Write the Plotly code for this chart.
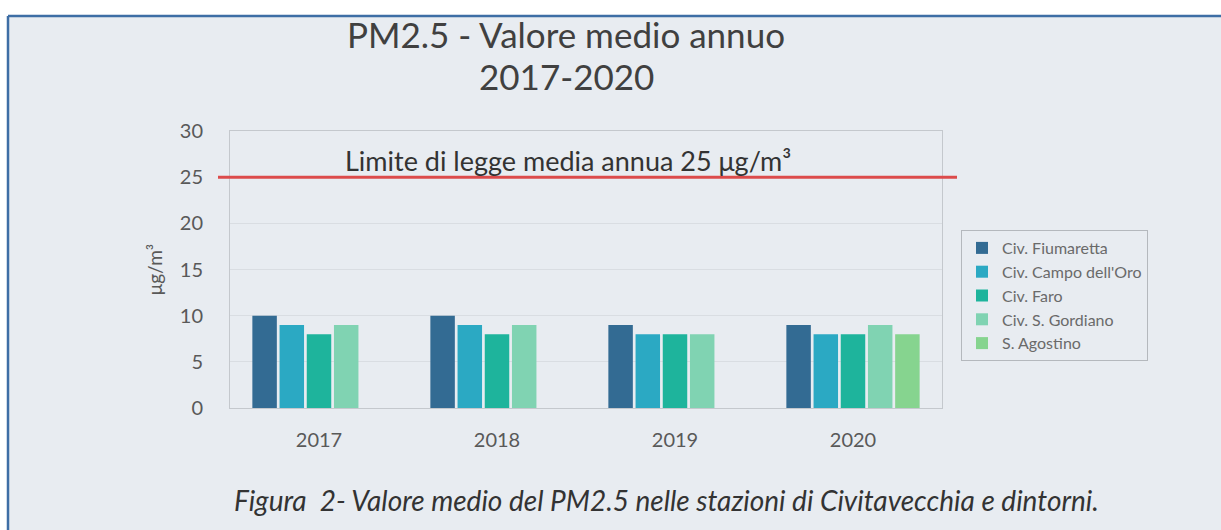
import plotly.graph_objects as go

years = ["2017", "2018", "2019", "2020"]
stations = ["Civ. Fiumaretta", "Civ. Campo dell'Oro", "Civ. Faro", "Civ. S. Gordiano", "S. Agostino"]
fiumaretta = [10, 10, 9, 9]
campo_oro = [9, 9, 8, 8]
faro = [8, 8, 8, 8]
s_gordiano = [9, 9, 8, 9]
s_agostino = [None, None, None, 8]
series = [fiumaretta, campo_oro, faro, s_gordiano, s_agostino]
colors = ["#336b93", "#2ba9c3", "#1eb49c", "#80d3b2", "#86d48f"]
y_ticks = [0, 5, 10, 15, 20, 25, 30]
limit_value = 25
limit_label = "Limite di legge media annua 25 μg/m³"

W, H = 1221, 530
L, R, T, B = 230, 942, 131, 408
pw, ph = R - L, B - T

def px(x):
    return (x - L) / pw

def py(y):
    return (B - y) / ph

FONT = "Lato"

fig = go.Figure()
for name, vals, col in zip(stations, series, colors):
    fig.add_trace(go.Bar(x=years, y=vals, name=name, marker=dict(color=col, line=dict(width=0))))

fig.update_layout(
    width=W, height=H,
    margin=dict(l=L, r=W - R, t=T, b=H - B, pad=0),
    paper_bgcolor="white",
    plot_bgcolor="rgba(0,0,0,0)",
    barmode="group",
    bargap=0.236,
    bargroupgap=0.1,
    font=dict(family=FONT, color="#595959"),
    showlegend=True,
    legend=dict(
        x=px(961), y=py(230), xanchor="left", yanchor="top",
        bgcolor="rgba(0,0,0,0)", bordercolor="#b4b8bd", borderwidth=1,
        font=dict(family=FONT, size=16, color="#6a6a6a"),
        tracegroupgap=0, itemwidth=30,
    ),
    xaxis=dict(
        showline=True, mirror=True, linecolor="#c4c8cd", linewidth=1,
        showgrid=False, ticks="", ticklabelstandoff=14,
        tickfont=dict(family=FONT, size=20, color="#595959"),
    ),
    yaxis=dict(
        range=[0, 30], tickvals=y_ticks, showline=True, mirror=True,
        linecolor="#c4c8cd", linewidth=1,
        showgrid=True, gridcolor="#d9dde2", gridwidth=1, zeroline=False,
        ticks="", ticklabelstandoff=22,
        tickfont=dict(family=FONT, size=20, color="#595959"),
        title=dict(text="μg/m³", font=dict(family=FONT, size=19, color="#595959"), standoff=12),
    ),
)

# page background with blue frame (scanned document look)
fig.add_shape(type="rect", xref="paper", yref="paper",
              x0=px(8), x1=px(W), y0=py(H), y1=py(16),
              fillcolor="#e8ecf1", line=dict(width=0), layer="below")
fig.add_shape(type="line", xref="paper", yref="paper",
              x0=px(8), x1=px(W), y0=py(16), y1=py(16),
              line=dict(color="#3e6ea5", width=2.5), layer="below")
fig.add_shape(type="line", xref="paper", yref="paper",
              x0=px(8), x1=px(8), y0=py(16), y1=py(H),
              line=dict(color="#3e6ea5", width=2.5), layer="below")

# legal limit line
fig.add_shape(type="line", xref="paper", yref="y",
              x0=px(218), x1=px(957), y0=limit_value, y1=limit_value,
              line=dict(color="#dc4b4b", width=3), layer="above")
fig.add_annotation(x=px(568), y=py(160), xref="paper", yref="paper", text=limit_label,
                   xanchor="center", yanchor="middle",
                   showarrow=False, font=dict(family=FONT, size=27, color="#333333"))

# title
fig.add_annotation(x=px(566), y=py(34), xref="paper", yref="paper",
                   xanchor="center", yanchor="middle",
                   text="PM2.5 - Valore medio annuo", showarrow=False,
                   font=dict(family=FONT, size=35, color="#404040"))
fig.add_annotation(x=px(566), y=py(76), xref="paper", yref="paper",
                   xanchor="center", yanchor="middle",
                   text="2017-2020", showarrow=False,
                   font=dict(family=FONT, size=35, color="#404040"))

# caption
fig.add_annotation(x=px(232), y=py(500), xref="paper", yref="paper",
                   xanchor="left", yanchor="middle",
                   text="<i>Figura  2- Valore medio del PM2.5 nelle stazioni di Civitavecchia e dintorni.</i>",
                   showarrow=False, font=dict(family=FONT, size=28, color="#333333"))

fig.write_html("out.html", config={"displayModeBar": False},
               post_script="document.body.style.margin='0';document.body.style.overflow='hidden';document.documentElement.style.overflow='hidden';")
